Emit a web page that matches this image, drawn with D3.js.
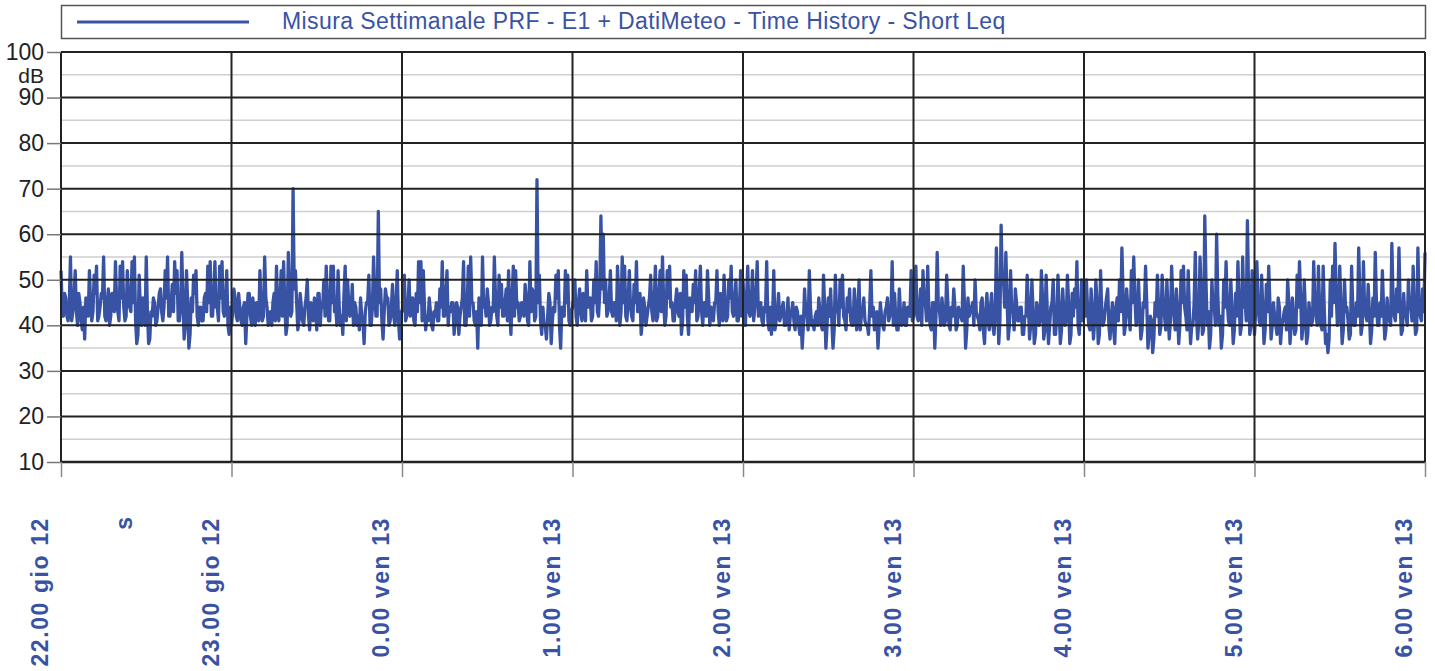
<!DOCTYPE html>
<html>
<head>
<meta charset="utf-8">
<script src="https://cdn.jsdelivr.net/npm/d3@7/dist/d3.min.js"></script>
<style>
  body { margin: 0; background: #fff; }
  svg { display: block; font-family: "Liberation Sans", Arial, sans-serif; }
</style>
</head>
<body>
<svg id="svg1" width="1435" height="671"></svg>
<script>
var svgWidth = 1435;
var svgHeight = 671;

var padding = {t: 52, r: 10, b: 209, l: 61};

var lineColor = '#3953a4';
var legendText = 'Misura Settimanale PRF - E1 + DatiMeteo - Time History - Short Leq';

// x axis: hours from 22.00 (gio 12) to 6.00 (ven 13)
var hourTicks = [22, 23, 24, 25, 26, 27, 28, 29, 30];
var hourLabels = ['22.00 gio 12', '23.00 gio 12', '0.00 ven 13', '1.00 ven 13', '2.00 ven 13',
                  '3.00 ven 13', '4.00 ven 13', '5.00 ven 13', '6.00 ven 13'];
var yTicks = [10, 20, 30, 40, 50, 60, 70, 80, 90, 100];
var yMinor = [15, 25, 35, 45, 55, 65, 75, 85, 95];

// Short Leq in dB: peaks/dips (leq..) and the dense band in between (band..)
var leq22 = [52,42,46,41,55,43,52,40,45,39,37,44,52,41,51,53,42,47,55,41,48,42,47,54,43,53,54,41,52,44,54,55,36,51,40,45,
             55,36,43,46,40,44,48,41,52,55,42,49,54,52,41,56,37,52,35,46,51,52,40,44,41,47,53,54,42,54,44,53,54,42,52,38];
var band22 = [44,47,42,45,41,46,43,47,41,44,46,42,45,43,47,41,44,46,42,45,40,47,43,45,41,46,44,42,47,43,45,41,38,44,46,40,
              43,37,42,45,41,47,43,44,46,42,45,43,47,41,44,46,40,45,38,43,47,42,44,41,46,43,45,42,47,44,41,46,43,45,40,44];
var leq23 = [40,48,42,47,41,44,36,47,42,46,40,44,52,41,55,44,42,40,47,53,41,52,54,38,56,42,70,52,39,47,41,44,50,39,42,46,
             39,47,45,50,53,41,53,53,44,52,40,38,53,50,42,49,45,40,39,42,36,45,51,40,55,42,65,48,37,48,46,41,49,40,52,37];
var band23 = [43,46,41,44,40,45,42,47,40,43,45,41,44,42,46,40,43,45,41,44,46,42,45,40,47,43,48,45,41,44,40,46,42,45,41,43,
              47,40,44,42,46,41,45,43,40,44,42,47,41,45,43,40,44,42,46,41,43,45,40,44,47,42,45,41,43,46,40,44,42,45,41,43];
var leq00 = [43,51,42,50,44,41,47,54,54,52,39,41,43,39,42,41,48,54,42,52,44,45,38,45,38,44,54,40,53,55,45,40,35,44,55,45,
             48,40,44,55,42,51,49,42,48,52,38,53,52,45,42,44,49,41,54,48,41,72,51,38,40,37,47,36,44,51,52,35,44,52,51,40];
var band00 = [45,41,44,42,46,40,43,45,41,44,42,46,40,43,45,41,44,42,47,40,43,45,41,44,42,46,40,44,42,45,41,43,46,40,44,42,
              45,41,43,46,40,44,42,45,41,43,46,42,44,41,45,42,46,40,43,47,42,45,41,44,40,42,45,41,43,46,40,44,42,45,41,43];
var leq01 = [44,50,40,48,41,45,52,44,41,50,54,42,64,60,50,43,52,42,45,53,40,55,53,41,52,42,49,54,43,38,46,40,44,51,41,53,
             42,52,55,40,52,53,45,41,48,42,38,52,51,38,44,49,52,42,53,40,45,52,40,43,45,52,40,44,51,41,50,53,42,50,41,52];
var band01 = [46,42,45,43,47,41,44,46,42,45,43,47,48,45,42,46,43,45,41,47,43,45,42,46,44,41,45,43,47,41,44,42,46,43,45,41,
              47,43,45,42,46,44,41,45,43,47,41,44,42,46,43,45,41,47,43,45,42,46,44,41,45,43,47,41,44,42,46,43,45,41,44,42];
var leq02 = [50,40,53,42,52,44,54,43,41,44,54,39,38,52,41,47,42,45,40,46,42,45,39,43,38,35,48,42,52,40,39,43,46,40,51,35,
             46,48,35,51,44,50,51,41,46,48,40,48,39,50,42,46,40,38,52,44,40,35,45,40,43,46,42,54,47,39,48,40,45,40,44,52];
var band02 = [44,46,43,45,41,47,42,45,40,43,41,44,42,39,43,41,44,40,42,39,43,41,44,40,42,40,43,39,44,41,42,40,43,39,44,40,
              42,41,39,43,40,44,42,39,43,41,40,44,42,39,43,41,40,44,42,39,43,40,42,39,44,41,43,40,42,39,43,41,40,44,42,41];
var leq03 = [42,53,41,48,52,45,53,40,45,35,56,43,46,40,51,40,44,48,39,44,42,53,35,46,43,45,50,42,39,46,36,47,39,47,38,57,
             36,62,50,56,37,52,43,48,41,44,38,42,51,37,50,36,45,40,52,37,51,36,44,50,38,51,36,48,40,51,36,47,48,54,38,50];
var band03 = [45,42,44,40,46,41,43,39,45,42,44,40,43,41,45,39,42,44,40,43,41,45,39,42,44,40,43,41,45,39,43,41,44,40,42,46,
              41,50,44,46,40,43,39,45,41,44,38,42,45,40,43,38,44,41,46,39,43,40,45,38,42,44,39,43,41,45,38,42,44,40,43,41];
var leq04 = [45,50,40,48,37,50,36,52,40,44,48,37,45,36,46,50,57,38,48,42,52,55,40,50,37,45,53,35,42,34,45,51,38,51,42,50,
             37,53,42,48,36,52,53,42,52,36,40,56,37,55,38,64,40,35,50,44,60,40,35,50,54,41,50,36,47,54,38,55,46,63,38,52];
var band04 = [42,44,39,43,41,45,38,43,41,46,40,42,39,44,41,43,47,40,44,39,45,46,41,43,39,44,45,38,41,37,42,44,40,45,39,43,
              41,46,39,43,40,45,44,39,43,40,45,42,41,46,39,50,43,38,44,40,47,42,38,44,45,40,43,39,42,45,40,44,41,48,40,44];
var leq05 = [38,54,41,51,36,49,53,37,45,40,46,36,41,44,50,36,46,38,51,54,37,50,36,45,40,54,42,53,40,53,36,34,50,53,58,40,
             53,36,50,44,37,53,40,45,57,38,54,42,49,36,46,56,40,45,52,37,46,41,58,42,48,57,38,47,42,50,44,53,38,57,42,48,56];
var band05 = [43,45,40,44,39,43,45,40,42,38,44,40,43,39,45,40,42,39,44,46,40,43,38,42,41,45,40,44,39,43,38,37,42,45,47,41,
              44,39,43,41,38,44,40,42,46,40,44,41,43,39,42,45,40,42,44,39,42,40,46,41,43,45,39,42,40,44,41,43,39,45,41,43];

// samples alternate: reading from leq.., then from band.. (144 per hour)
function weave(a, b) {
    var out = [];
    a.forEach(function(v, i) {
        out.push(v);
        if (i < b.length) out.push(b[i]);
    });
    return out;
}

var series = [].concat(weave(leq22, band22), weave(leq23, band23), weave(leq00, band00), weave(leq01, band01),
                       weave(leq02, band02), weave(leq03, band03), weave(leq04, band04), weave(leq05, band05));

var svg = d3.select('#svg1');

var xScale = d3.scaleLinear()
    .domain([22, 30])
    .range([padding.l, svgWidth - padding.r]);

var yScale = d3.scaleLinear()
    .domain([10, 100])
    .range([svgHeight - padding.b, padding.t]);

// legend box
svg.append('rect')
    .attr('x', 61.5)
    .attr('y', 5.5)
    .attr('width', 1364)
    .attr('height', 33)
    .attr('fill', 'none')
    .attr('stroke', '#555')
    .attr('stroke-width', 1.5);

svg.append('line')
    .attr('x1', 77).attr('x2', 249)
    .attr('y1', 22).attr('y2', 22)
    .attr('stroke', lineColor)
    .attr('stroke-width', 3);

svg.append('text')
    .attr('x', 282)
    .attr('y', 29)
    .text(legendText)
    .style('font-size', '23px')
    .style('letter-spacing', '0.4px')
    .attr('fill', lineColor);

// light 5 dB lines go under the data
svg.append('g').attr('class', 'minor_grid')
  .selectAll('line')
    .data(yMinor)
    .enter()
    .append('line')
      .attr('x1', xScale(22)).attr('x2', xScale(30))
      .attr('y1', function(d) { return yScale(d); })
      .attr('y2', function(d) { return yScale(d); })
      .attr('stroke', '#cfcfcf')
      .attr('stroke-width', 1.5);

var line = d3.line()
    .x(function(d, i) { return xScale(22 + i / 144); })
    .y(function(d) { return yScale(d); });

svg.append('path')
    .datum(series)
    .attr('class', 'leq')
    .attr('d', line)
    .attr('fill', 'none')
    .attr('stroke', lineColor)
    .attr('stroke-width', 3.3)
    .attr('stroke-linejoin', 'round');

// dark 10 dB and hour lines go over it
var grid = svg.append('g').attr('class', 'grid');

grid.selectAll('line.major')
    .data(yTicks)
    .enter()
    .append('line')
      .attr('class', 'major')
      .attr('x1', xScale(22)).attr('x2', xScale(30))
      .attr('y1', function(d) { return yScale(d); })
      .attr('y2', function(d) { return yScale(d); })
      .attr('stroke', '#222')
      .attr('stroke-width', function(d) { return d == 10 ? 2.5 : 2; });

grid.selectAll('line.vert')
    .data(hourTicks)
    .enter()
    .append('line')
      .attr('class', 'vert')
      .attr('x1', function(d) { return xScale(d); })
      .attr('x2', function(d) { return xScale(d); })
      .attr('y1', yScale(100)).attr('y2', yScale(10))
      .attr('stroke', '#222')
      .attr('stroke-width', 2);

// y axis ticks and labels
var yAxis = svg.append('g')
    .attr('class', 'y_axis')
    .attr('transform', 'translate(' + padding.l + ',0)')
    .call(d3.axisLeft(yScale).tickValues(yTicks).tickSize(14).tickPadding(3));

yAxis.select('.domain').remove();
yAxis.selectAll('.tick line').attr('stroke', '#777').attr('stroke-width', 1.5);
yAxis.selectAll('.tick text')
    .style('font-size', '23px')
    .attr('fill', '#222')
    .attr('font-family', 'Liberation Sans, Arial, sans-serif');

svg.append('text')
    .attr('class', 'y_unit')
    .attr('x', 44)
    .attr('y', 83)
    .attr('text-anchor', 'end')
    .text('dB')
    .style('font-size', '21px')
    .attr('fill', '#222');

// x axis ticks and rotated labels
var xAxis = svg.append('g')
    .attr('class', 'x_axis')
    .attr('transform', 'translate(0,' + yScale(10) + ')')
    .call(d3.axisBottom(xScale).tickValues(hourTicks).tickSize(15).tickFormat(''));

xAxis.select('.domain').remove();
xAxis.selectAll('.tick line').attr('stroke', '#888').attr('stroke-width', 1.5);

svg.selectAll('text.x_label')
    .data(hourTicks)
    .enter()
    .append('text')
      .attr('class', 'x_label')
      .attr('transform', function(d) { return 'translate(' + [xScale(d) - 13, 517] + ') rotate(-90)'; })
      .attr('text-anchor', 'end')
      .text(function(d, i) { return hourLabels[i]; })
      .style('font-size', '23px')
      .style('font-weight', 'bold')
      .style('letter-spacing', '1.6px')
      .attr('fill', lineColor);

svg.append('text')
    .attr('class', 'x_unit')
    .attr('transform', 'translate(' + [xScale(22.4) + 3, 517] + ') rotate(-90)')
    .attr('text-anchor', 'end')
    .text('s')
    .style('font-size', '23px')
    .style('font-weight', 'bold')
    .attr('fill', lineColor);
</script>
</body>
</html>
